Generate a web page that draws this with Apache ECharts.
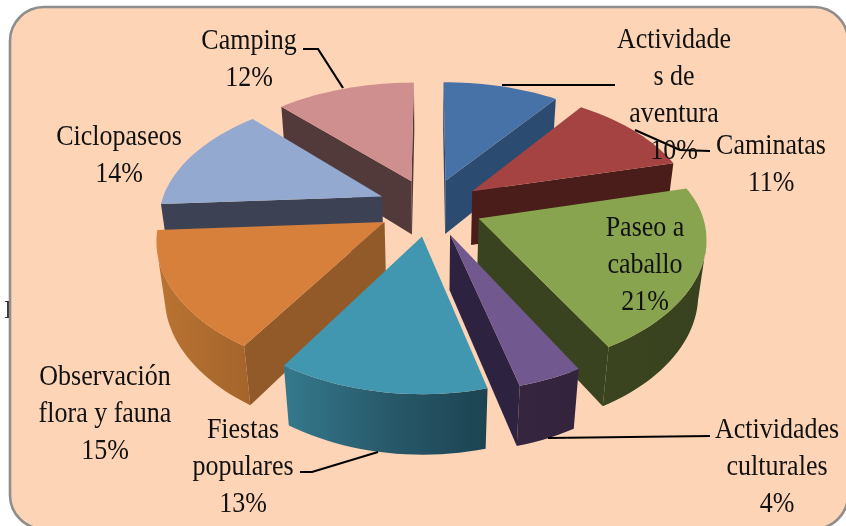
<!DOCTYPE html>
<html>
<head>
<meta charset="utf-8">
<style>html,body{margin:0;padding:0;background:#fff}#c{width:846px;height:526px}</style>
<script src="https://cdn.jsdelivr.net/npm/echarts@6/dist/echarts.min.js"></script>
</head>
<body>
<div id="c"></div>
<script>
// Data
const categories = ['Actividade\ns de\naventura', 'Caminatas', 'Paseo a\ncaballo', 'Actividades\nculturales', 'Fiestas\npopulares', 'Observación\nflora y fauna', 'Ciclopaseos', 'Camping'];
const percents = [10, 11, 21, 4, 13, 15, 14, 12];

// Styling, kept apart from the data
const topColors = ['#4672A8', '#A44341', '#89A44E', '#71588F', '#4097AF', '#D7803B', '#93A9CF', '#CE8F8E'];
const cutColors = ['#2C4B70', '#4A1C1A', '#39431F', '#2D2340', '#1D4452', '#925A28', '#3C4254', '#533A3A'];
const rimColors = [['#2C4B70', '#2C4B70'], ['#4A1C1A', '#4A1C1A'], ['#3A4520', '#38421E'], ['#35253F', '#33233D'], ['#35798D', '#285A6B', '#1C4351'], ['#BA7432', '#A4642B'], ['#3C4254', '#3C4254'], ['#533A3A', '#533A3A']];
const labelCenters = [[674, 40], [771, 146], [645, 228], [777, 430], [243, 430], [105, 377], [119, 137], [249, 41]];
const leaderLines = [
  [[502, 85], [615, 85]],
  [[635, 130], [680, 150], [710, 151]],
  [[548, 438], [710, 436]],
  [[378, 452], [312, 472], [300, 472]],
  [[343, 88], [318, 49], [303, 49]]
];
const FONT = '"Liberation Serif", "Times New Roman", serif';
const TEXT_STRETCH = 1.17;

// Projection of the tilted pie
const view = { cx: 430, cy: 207, rx: 222, ry: 122, tilt: 0.16, tiltFrontX: 0.13, shear: 1.5, depth: 56, shrink: 0.03, explode: 0.235 };
function project(x, y, z) {
  const d = 1 - view.tilt * y + view.shrink * z;
  const dx = y > 0 ? 1 - view.tiltFrontX * y + view.shrink * z : d;
  const skew = y > 0 ? view.shear * y : 0;
  return [view.cx + view.rx * x / dx + skew, view.cy + (view.ry * y + view.depth * z) / d];
}
const camY = 1 / view.tilt;
const total = percents.reduce((a, b) => a + b, 0);
const rad = d => d * Math.PI / 180;
const dir = a => [Math.sin(rad(a)), -Math.cos(rad(a))];
const slices = [];
let acc = 0;
percents.forEach((p, i) => {
  const a0 = acc / total * 360, a1 = (acc + p) / total * 360;
  acc += p;
  const m = dir((a0 + a1) / 2);
  slices.push({ i, a0, a1, ox: m[0] * view.explode, oy: m[1] * view.explode, rank: m[1] });
});
const order = slices.slice().sort((a, b) => a.rank - b.rank);

function faces(s, a) { return n => n[0] * (0 - a[0]) + n[1] * (camY - a[1]) > 0; }

function renderSlice(params) {
  const s = order[params.dataIndex];
  const apex = [s.ox, s.oy];
  const steps = Math.max(6, Math.round((s.a1 - s.a0) / 2));
  const rim = [];
  for (let k = 0; k <= steps; k++) {
    const a = s.a0 + (s.a1 - s.a0) * k / steps, v = dir(a);
    rim.push({ a, x: s.ox + v[0], y: s.oy + v[1], v });
  }
  const kids = [];
  const poly = (points, fill) => kids.push({ type: 'polygon', shape: { points }, style: { fill, stroke: null } });
  // radial cut walls
  [[s.a0, s.a0 - 90, rim[0]], [s.a1, s.a1 + 90, rim[steps]]].forEach(w => {
    if (faces(s, apex)(dir(w[1]))) {
      poly([project(apex[0], apex[1], 0), project(w[2].x, w[2].y, 0), project(w[2].x, w[2].y, 1), project(apex[0], apex[1], 1)], cutColors[s.i]);
    }
  });
  // outer wall, only the part turned to the viewer
  const vis = rim.filter(r => faces(s, [r.x, r.y])(r.v));
  if (vis.length > 1) {
    const pts = vis.map(r => project(r.x, r.y, 0)).concat(vis.slice().reverse().map(r => project(r.x, r.y, 1)));
    const cols = rimColors[s.i];
    poly(pts, new echarts.graphic.LinearGradient(0, 0, 1, 0, cols.map((c, k) => ({ offset: k / (cols.length - 1), color: c }))));
  }
  // top face
  poly([project(apex[0], apex[1], 0)].concat(rim.map(r => project(r.x, r.y, 0))), topColors[s.i]);
  return { type: 'group', children: kids };
}

function renderLabel(params) {
  const i = params.dataIndex;
  const text = categories[i] + '\n' + percents[i] + '%';
  return {
    type: 'text',
    x: labelCenters[i][0], y: labelCenters[i][1] - 18.5,
    scaleY: TEXT_STRETCH,
    style: { text, fill: '#111', font: '26px ' + FONT, align: 'center', verticalAlign: 'top', lineHeight: 37 / TEXT_STRETCH }
  };
}

function renderLeader(params) {
  return {
    type: 'polyline',
    shape: { points: leaderLines[params.dataIndex] },
    style: { stroke: '#000', lineWidth: 2.2, fill: null }
  };
}

const chart = echarts.init(document.getElementById('c'), null, { renderer: 'canvas' });
chart.setOption({
  animation: false,
  backgroundColor: '#fff',
  graphic: [
    { type: 'text', x: 4, y: 298, z: -2, style: { text: 'I', fill: '#222', font: '26px ' + FONT } },
    { type: 'rect', z: -1, shape: { x: 10, y: 7, width: 838, height: 522, r: 34 }, style: { fill: '#FDD5B6', stroke: '#8E8E8E', lineWidth: 2.6 } }
  ],
  series: [
    { type: 'custom', coordinateSystem: 'none', silent: true, z: 2, data: order.map(s => percents[s.i]), renderItem: renderSlice },
    { type: 'custom', coordinateSystem: 'none', silent: true, z: 3, data: leaderLines.map((l, i) => i), renderItem: renderLeader },
    { type: 'custom', coordinateSystem: 'none', silent: true, z: 4, data: percents, renderItem: renderLabel }
  ]
});
</script>
</body>
</html>
